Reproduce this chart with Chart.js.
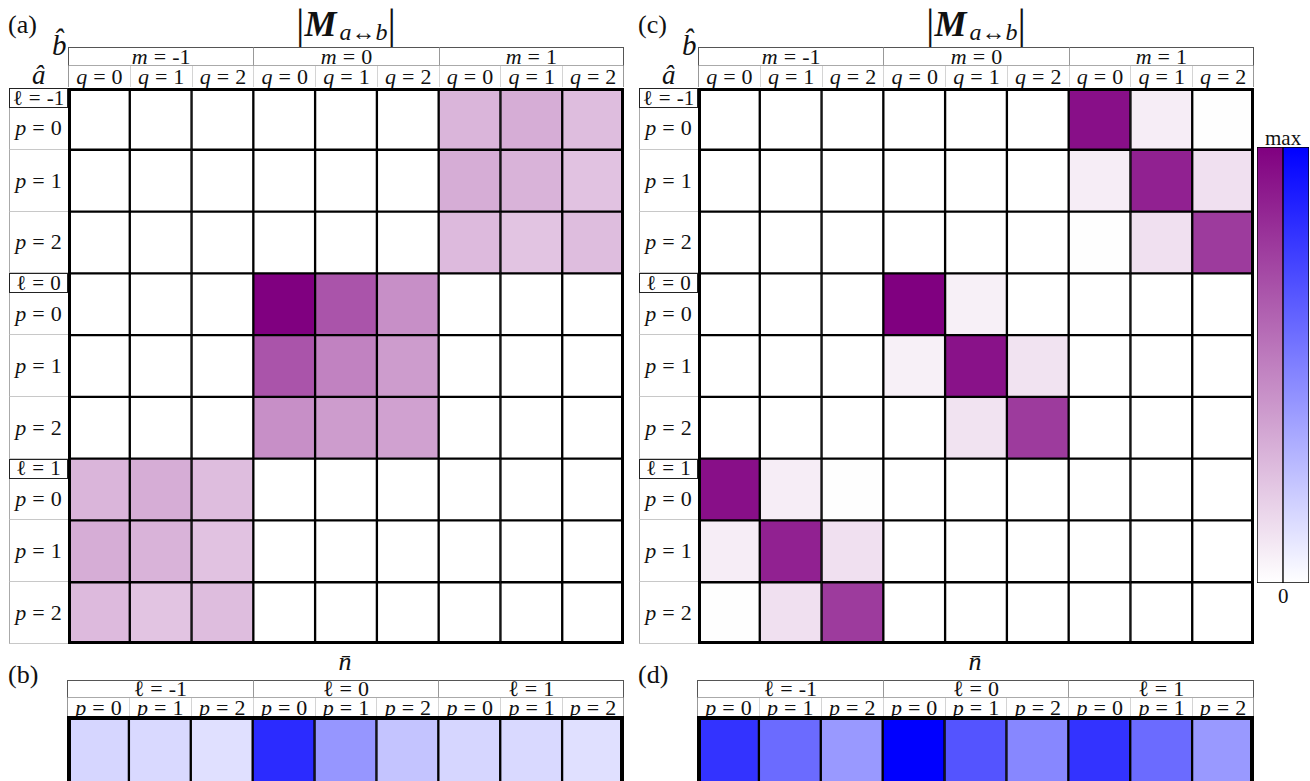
<!DOCTYPE html>
<html>
<head>
<meta charset="utf-8">
<script src="https://cdn.jsdelivr.net/npm/chart.js@4.4.1/dist/chart.umd.min.js"></script>
<style>
  html, body { margin: 0; padding: 0; background: #fff; width: 1310px; height: 781px; overflow: hidden; position: relative; }
  .box { position: absolute; box-sizing: border-box; display: flex; align-items: center; justify-content: center;
         font-family: "Liberation Serif", "Tinos", "Times New Roman", "DejaVu Serif", serif; font-size: 22px; line-height: 1; color: #111; white-space: nowrap; }
  .txt { position: absolute; font-family: "Liberation Serif", "Tinos", "Times New Roman", "DejaVu Serif", serif; color: #111; white-space: nowrap; line-height: 1; }
  .rel { display: inline-block; margin: 0 6px; }
  canvas { position: absolute; }
</style>
</head>
<body>
<script>
// ---- index labels ----
const mValues = ['-1', '0', '1'];   // column groups of b̂
const qValues = ['0', '1', '2'];    // columns inside each group
const lValues = ['-1', '0', '1'];   // row groups of â
const pValues = ['0', '1', '2'];    // rows inside each group

// ---- |M_{a<->b}| normalised to its maximum, rows = â, columns = b̂ ----
const couplingA = [
  [0, 0, 0,  0, 0, 0,  0.29, 0.32, 0.26],
  [0, 0, 0,  0, 0, 0,  0.32, 0.30, 0.24],
  [0, 0, 0,  0, 0, 0,  0.27, 0.23, 0.26],
  [0, 0, 0,  1.00, 0.67, 0.44,  0, 0, 0],
  [0, 0, 0,  0.67, 0.49, 0.39,  0, 0, 0],
  [0, 0, 0,  0.44, 0.39, 0.37,  0, 0, 0],
  [0.29, 0.32, 0.26,  0, 0, 0,  0, 0, 0],
  [0.32, 0.30, 0.24,  0, 0, 0,  0, 0, 0],
  [0.27, 0.23, 0.26,  0, 0, 0,  0, 0, 0]
];
const couplingC = [
  [0, 0, 0,  0, 0, 0,  0.94, 0.07, 0.005],
  [0, 0, 0,  0, 0, 0,  0.07, 0.87, 0.12],
  [0, 0, 0,  0, 0, 0,  0.005, 0.12, 0.77],
  [0, 0, 0,  1.00, 0.06, 0.00,  0, 0, 0],
  [0, 0, 0,  0.06, 0.93, 0.11,  0, 0, 0],
  [0, 0, 0,  0.00, 0.11, 0.77,  0, 0, 0],
  [0.94, 0.07, 0.005,  0, 0, 0,  0, 0, 0],
  [0.07, 0.87, 0.12,  0, 0, 0,  0, 0, 0],
  [0.005, 0.12, 0.77,  0, 0, 0,  0, 0, 0]
];

// ---- mean occupation n̄ per mode (ℓ, p) ----
const occupationB = [0.16, 0.15, 0.12, 0.83, 0.41, 0.23, 0.16, 0.15, 0.12];
const occupationD = [0.80, 0.58, 0.40, 1.00, 0.67, 0.47, 0.80, 0.58, 0.40];

// ---- colour maps (0 -> white, max -> full colour) ----
const purple = [128, 0, 128];
const blue = [0, 0, 255];
const colorbarEnds = ['rgb(128,0,128)', 'rgb(0,0,255)'];
const colorbarLevels = [1, 1];

function shade(rgb, v) {
  const c = rgb.map(k => Math.round(255 + (k - 255) * v));
  return `rgb(${c[0]},${c[1]},${c[2]})`;
}

function el(html, x, y, w, h, style) {
  const d = document.createElement('div');
  d.className = 'box';
  Object.assign(d.style, { left: x + 'px', top: y + 'px', width: w + 'px', height: h + 'px' }, style || {});
  d.innerHTML = html;
  document.body.appendChild(d);
  return d;
}
function txt(html, x, y, size, style) {
  const d = document.createElement('div');
  d.className = 'txt';
  Object.assign(d.style, { left: x + 'px', top: y + 'px', fontSize: size + 'px' }, style || {});
  d.innerHTML = html;
  document.body.appendChild(d);
  return d;
}
const eq = (v, n) => `<i>${v}</i><span class="rel">=</span>${n}`;
const ell = n => `<span>ℓ</span><span class="rel">=</span>${n}`;

// thick frame round the plotting area
const frame = {
  id: 'frame',
  afterDatasetsDraw(chart, args, opts) {
    const a = chart.chartArea, ctx = chart.ctx, w = opts.width || 3;
    ctx.save();
    ctx.strokeStyle = '#000';
    ctx.lineWidth = w;
    ctx.strokeRect(a.left + w / 2, a.top + w / 2, a.right - a.left - w, a.bottom - a.top - w);
    ctx.restore();
  }
};

function makeCanvas(x, y, w, h) {
  const c = document.createElement('canvas');
  c.width = w; c.height = h;
  c.style.left = x + 'px'; c.style.top = y + 'px';
  c.style.width = w + 'px'; c.style.height = h + 'px';
  document.body.appendChild(c);
  return c;
}

// grid of coloured cells: one stacked dataset per row, one bar per column
function cellGrid(x, y, w, h, values, rgb, frameWidth) {
  const cols = values[0].length;
  const labels = [];
  for (let i = 0; i < cols; i++) labels.push('c' + i);
  const datasets = values.map((row, r) => ({
    label: 'r' + r,
    data: row.map(() => 1),
    backgroundColor: row.map(v => shade(rgb, v)),
    borderColor: '#000',
    borderWidth: 1.5,
    borderSkipped: false,
    barPercentage: 1,
    categoryPercentage: 1,
    stack: 'rows'
  }));
  return new Chart(makeCanvas(x, y, w, h), {
    type: 'bar',
    data: { labels, datasets },
    options: {
      responsive: false, animation: false, devicePixelRatio: 1,
      layout: { padding: 0 },
      plugins: { legend: { display: false }, tooltip: { enabled: false }, frame: { width: frameWidth } },
      scales: {
        x: { display: false, stacked: true },
        y: { display: false, stacked: true, reverse: true, min: 0, max: values.length }
      }
    },
    plugins: [frame]
  });
}

function columnHeader(L, W, top, h1, h2, groupHtml, groups, subVar, subs) {
  const n = groups.length * subs.length, cw = W / n;
  groups.forEach((g, i) => {
    el(groupHtml(g), L + i * subs.length * cw, top, subs.length * cw, h1, {
      borderTop: '1px solid #555',
      borderLeft: '1px solid ' + (i === 0 ? '#555' : '#999'),
      borderRight: i === groups.length - 1 ? '1px solid #555' : 'none',
      borderBottom: '1px solid #aaa'
    });
    subs.forEach((s, j) => {
      const k = i * subs.length + j;
      el(eq(subVar, s), L + k * cw, top + h1, cw, h2, {
        borderLeft: '1px solid ' + (k === 0 ? '#999' : '#d4d4d4'),
        borderRight: k === n - 1 ? '1px solid #999' : 'none'
      });
    });
  });
}

function rowHeader(L0, L, T, H, groups, subs) {
  const n = groups.length * subs.length, rh = H / n, w = L - L0;
  groups.forEach((g, i) => subs.forEach((s, j) => {
    const k = i * subs.length + j, y = T + k * rh;
    el('', L0, y, w, rh, { borderLeft: '1px solid #aaa', borderBottom: '1px solid #c8c8c8' });
    if (j === 0) {
      el(ell(g), L0, y, w, 20, { border: '1px solid #222', background: '#fff', fontSize: '21px' });
      el(eq('p', s), L0, y + 19, w, rh - 19);
    } else {
      el(eq('p', s), L0, y, w, rh);
    }
  }));
}

function matrixPanel(dx, tag, values) {
  const L = 68 + dx, T = 88, W = 556, H = 556;
  txt(tag, 8 + dx, 12, 26);
  // title |M_{a<->b}|
  el(`<span style="font-size:42px;font-weight:300">|</span><b><i style="font-size:36px">M</i></b>` +
    `<span style="font-size:24px;position:relative;top:8px;margin-left:3px"><i>a</i>↔<i>b</i></span>` +
    `<span style="font-size:42px;font-weight:300">|</span>`, L + W / 2 - 150, 4, 300, 40, { alignItems: 'center' });
  txt('<i>b̂</i>', 52 + dx, 31, 29);
  txt('<i>â</i>', 32 + dx, 62, 27);
  columnHeader(L, W, 47, 19, 21, v => eq('m', v), mValues, 'q', qValues);
  rowHeader(9 + dx, L, T, H, lValues, pValues);
  cellGrid(L, T, W, H, values, purple, 3);
}

function occupationPanel(dx, tag, values) {
  const L = 67 + dx, W = 557;
  txt(tag, 8 + dx, 662, 26);
  txt('<i>n̄</i>', L + W / 2 - 7, 649, 26);
  columnHeader(L, W, 680, 18, 19, ell, lValues, 'p', pValues);
  cellGrid(L, 716, W, 95, [values], blue, 4);
}

matrixPanel(0, '(a)', couplingA);
matrixPanel(630, '(c)', couplingC);
occupationPanel(0, '(b)', occupationB);
occupationPanel(630, '(d)', occupationD);

// colour bar: purple for |M|, blue for n̄
txt('max', 1265, 128, 21);
txt('0', 1278, 586, 21);
new Chart(makeCanvas(1257, 147, 52, 436), {
  type: 'bar',
  data: {
    labels: ['|M|', 'n̄'],
    datasets: [{
      data: colorbarLevels,
      backgroundColor: c => {
        const a = c.chart.chartArea;
        if (!a) return 'transparent';
        const g = c.chart.ctx.createLinearGradient(0, a.top, 0, a.bottom);
        g.addColorStop(0, colorbarEnds[c.dataIndex]);
        g.addColorStop(1, '#ffffff');
        return g;
      },
      borderColor: '#000', borderWidth: 1, borderSkipped: false,
      barPercentage: 1, categoryPercentage: 1
    }]
  },
  options: {
    responsive: false, animation: false, devicePixelRatio: 1,
    layout: { padding: 0 },
    plugins: { legend: { display: false }, tooltip: { enabled: false } },
    scales: { x: { display: false }, y: { display: false, min: 0, max: 1 } }
  }
});
</script>
</body>
</html>
